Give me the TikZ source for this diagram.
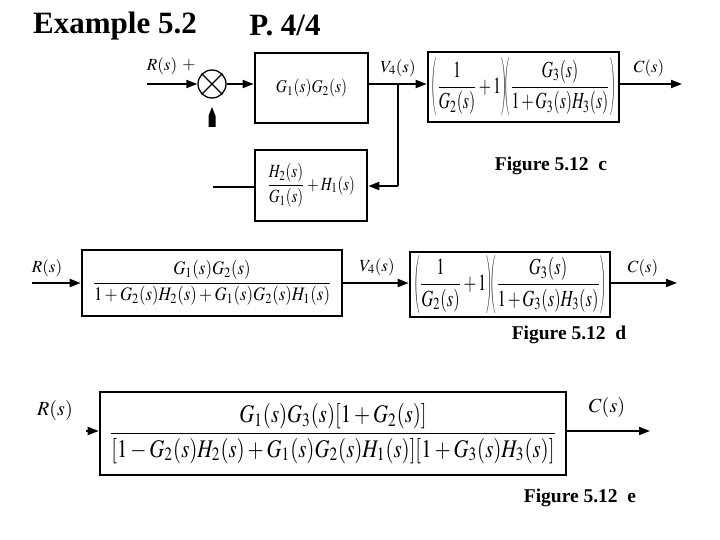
\documentclass[tikz,border=0pt]{standalone}
\usepackage{amsmath}
\usepackage{graphicx}
\usepackage{mathptmx}
\usepackage[no-math]{fontspec}
\setmainfont{Liberation Serif}
\usetikzlibrary{arrows.meta}
\newcommand\fitmath[3]{\resizebox*{#1}{#2}{$\displaystyle #3$}}
\newcommand\parstrut{\vphantom{\frac{G_3(s)}{G_3(s)}}}
\newcommand\lpar{\mathopen{\scalebox{0.45}[1.05]{$\nulldelimiterspace=0pt\displaystyle\left(\parstrut\right.$}}}
\newcommand\rpar{\mathclose{\scalebox{0.45}[1.05]{$\nulldelimiterspace=0pt\displaystyle\left.\parstrut\right)$}}}
\newcommand\sysfrac{\medmuskip=2mu\lpar\frac{1}{G_2(s)}+1\rpar\mkern-2mu\lpar\frac{G_3(s)}{1+G_3(s)H_3(s)}\rpar}
\begin{document}
\begin{tikzpicture}[x=1pt,y=-1pt,
  box/.style={draw,line width=2.6pt,inner sep=0pt},
  wire/.style={line width=1.8pt},
  arr/.style={wire,-{Triangle[length=11pt,width=8pt]}},
  lab/.style={font=\fontsize{17}{17}\selectfont},
  figcap/.style={font=\fontsize{19.5}{20}\selectfont\bfseries},
  ttl/.style={font=\fontsize{31}{31}\selectfont\bfseries},
  ]
\useasboundingbox (0,0) rectangle (720,540);
% titles
\node[ttl] (t1) at (115,26) {Example 5.2};
\node[ttl] (t2) at (285,26) {P. 4/4};
% ---------- Figure c
\node[circle,draw,line width=1.3pt,minimum size=28pt,inner sep=0pt] (sum) at (212,84) {};
\draw[line width=1.1pt] (sum.north west) -- (sum.south east) (sum.north east) -- (sum.south west);
\node[box,minimum width=113pt,minimum height=70pt] (g12) at (311.5,88)
  {\fitmath{71pt}{18pt}{G_1(s)G_2(s)}};
\node[box,minimum width=191pt,minimum height=70pt] (rc) at (523.5,87)
  {\fitmath{184pt}{58pt}{\sysfrac}};
\node[box,minimum width=112pt,minimum height=71pt] (hb) at (311,185.5)
  {\fitmath{88pt}{44pt}{\frac{H_2(s)}{G_1(s)}+H_1(s)}};
\coordinate (rin) at (147,84);
\coordinate (v4) at (398,84);
\coordinate (fb) at (398,186);
\coordinate (fl) at (213,187);
\coordinate (cout) at (682,84);
\draw[arr] (rin) -- (sum.west);
\draw[arr] (sum.east) -- (sum.east -| g12.west);
\draw[wire] (g12.east |- v4) -- (v4);
\draw[arr] (v4) -- (v4 -| rc.west);
\draw[arr] (rc.east |- cout) -- (cout);
\draw[wire] (v4) -- (fb);
\draw[arr] (fb) -- (fb -| hb.east);
\draw[wire] (hb.west |- fl) -- (fl);
\fill (208.5,127) -- (215.5,127) -- (215.5,116) -- (212,107) -- (208.5,116) -- cycle;
\node[lab] (lr1) at (162,66) {$R(s)$};
\node[lab] (lp1) at (189,65) {$+$};
\node[lab] (lv1) at (398,68) {$V_4(s)$};
\node[lab] (lc1) at (649,68) {$C(s)$};
\node[figcap] (fc) at (551,166) {Figure 5.12\ \ c};
% ---------- Figure d
\node[box,minimum width=260pt,minimum height=66pt] (d1) at (212,283)
  {\fitmath{240pt}{45pt}{\frac{G_1(s)G_2(s)}{1+G_2(s)H_2(s)+G_1(s)G_2(s)H_1(s)}}};
\node[box,minimum width=200pt,minimum height=65pt] (d2) at (510,284.5)
  {\fitmath{192pt}{58pt}{\sysfrac}};
\coordinate (din) at (32,283);
\coordinate (dout) at (677,283);
\draw[arr] (din) -- (din -| d1.west);
\draw[arr] (d1.east |- din) -- (din -| d2.west);
\draw[arr] (d2.east |- dout) -- (dout);
\node[lab] (lr2) at (47,268) {$R(s)$};
\node[lab] (lv2) at (377,267) {$V_4(s)$};
\node[lab] (lc2) at (643,268) {$C(s)$};
\node[figcap] (fd) at (569,335) {Figure 5.12\ \ d};
% ---------- Figure e
\node[box,minimum width=466pt,minimum height=83pt] (e1) at (333,433.5)
  {\fitmath{448pt}{60pt}{\frac{G_1(s)G_3(s)[1+G_2(s)]}{[1-G_2(s)H_2(s)+G_1(s)G_2(s)H_1(s)][1+G_3(s)H_3(s)]}}};
\coordinate (ein) at (86,431);
\coordinate (eout) at (650,431);
\draw[arr] (ein) -- (ein -| e1.west);
\draw[arr] (e1.east |- eout) -- (eout);
\node[lab,font=\fontsize{20}{20}\selectfont] (lr3) at (55,410) {$R(s)$};
\node[lab,font=\fontsize{20}{20}\selectfont] (lc3) at (607,407) {$C(s)$};
\node[figcap] (fe) at (580,498) {Figure 5.12\ \ e};
\end{tikzpicture}
\end{document}
